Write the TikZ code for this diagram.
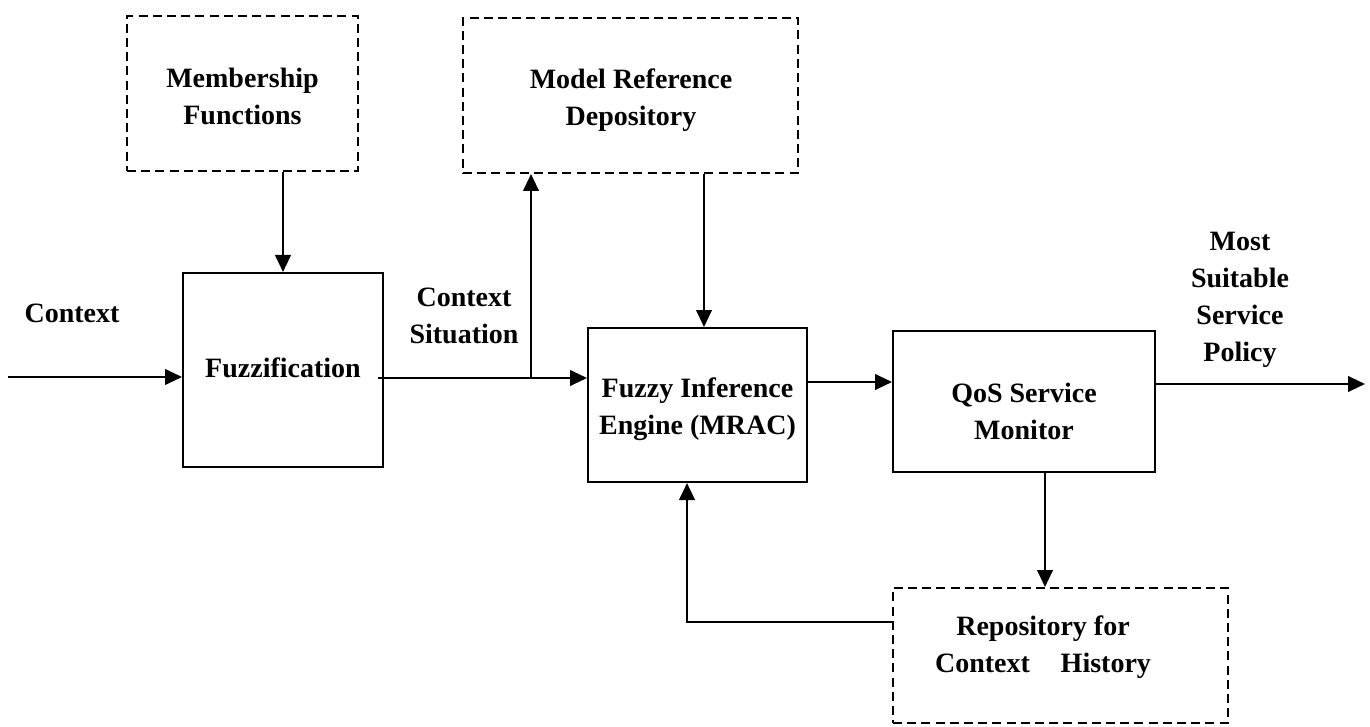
\documentclass[tikz,border=0pt]{standalone}
\usepackage{fontspec}
\setmainfont{Liberation Serif}
\usetikzlibrary{arrows.meta}
\begin{document}
\begin{tikzpicture}[x=0.5pt,y=-0.5pt,
  every node/.style={font=\fontsize{14}{18.5}\selectfont\bfseries, align=center, inner sep=0pt},
  solidbox/.style={draw, line width=1pt, rectangle},
  dashbox/.style={draw, line width=1pt, rectangle, dash pattern=on 4.5pt off 2.6pt},
  arr/.style={line width=1.1pt, -{Triangle[length=8.5pt,width=7.8pt]}},
  ln/.style={line width=1.1pt}]
\useasboundingbox (0,0) rectangle (1370,727);

% boxes
\node[dashbox, minimum width=115.5pt, minimum height=77.5pt] (memb) at (242.5,93.5) {};
\node[dashbox, minimum width=167.5pt, minimum height=77.5pt] (mrd) at (630.5,95.5) {};
\node[solidbox, minimum width=100pt, minimum height=97pt] (fuzz) at (283,370) {};
\node[solidbox, minimum width=109.5pt, minimum height=77pt] (fie) at (697.5,405) {};
\node[solidbox, minimum width=131pt, minimum height=70.5pt] (qos) at (1024,401.5) {};
\node[dashbox, minimum width=167.5pt, minimum height=67.5pt] (repo) at (1060.5,655.5) {};

% box texts
\node (membt) at (242.5,96.5) {Membership\\Functions};
\node (mrdt) at (631,100) {Model Reference\\Depository};
\node (fuzzt) at (283,368) {Fuzzification};
\node (fiet) at (697.5,409) {Fuzzy Inference\\Engine (MRAC)};
\node (qost) at (1024,411.5) {QoS Service\\Monitor};
\node (repot) at (1043,647.5) {Repository for\\Context\hspace{1.1em}History};

% labels
\node (ctx) at (72,313) {Context};
\node (ctxsit) at (464,316) {Context\\Situation};
\node (outl) at (1240,300) {Most\\Suitable\\Service\\Policy};

% helper coordinates
\coordinate (in) at (8,377);
\coordinate (j) at (531,378);
\coordinate (m) at (704,250);
\coordinate (k) at (807,382);
\coordinate (out) at (1365,384);
\coordinate (d) at (1045,472);
\coordinate (fb) at (687,622);

% connectors
\draw[arr] (in) -- (in -| fuzz.west);
\draw[arr] (memb.south -| fuzz.north) -- (fuzz.north);
\draw[ln] ([xshift=-3pt]j -| fuzz.east) -- (j);
\draw[arr] (j) -- (j -| fie.west);
\draw[arr] (j) -- (j |- mrd.south);
\draw[arr] (m |- mrd.south) -- (m |- fie.north);
\draw[arr] (k -| fie.east) -- (k -| qos.west);
\draw[arr] (out -| qos.east) -- (out);
\draw[arr] (d |- qos.south) -- (d |- repo.north);
\draw[arr] (fb -| repo.west) -- (fb) -- (fb |- fie.south);
\end{tikzpicture}
\end{document}
